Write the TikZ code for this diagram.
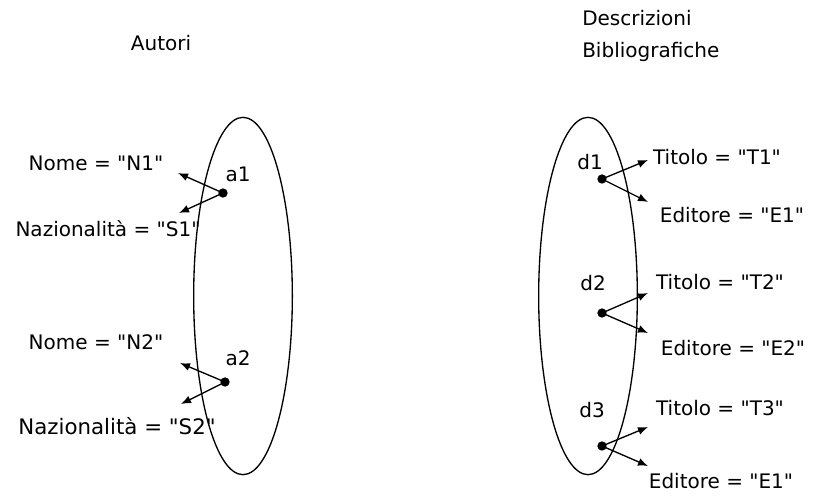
\documentclass[tikz,border=0pt]{standalone}
\usepackage{fontspec}
\setmainfont{DejaVu Sans}[Ligatures=TeXOff]
\usetikzlibrary{arrows.meta,positioning,shapes.geometric}
\tikzset{
  >=Latex,
  every node/.style={font=\fontsize{15}{18}\selectfont,inner sep=0pt},
  insieme/.style={draw,ellipse,line width=1pt,minimum width=74pt,minimum height=268pt},
  punto/.style={circle,fill,inner sep=0pt,minimum size=7pt},
  attr/.style={->,line width=1pt,>={Latex[length=7.5pt,width=6pt]}},
  titolo/.style={align=left,font=\fontsize{15}{24}\selectfont}
}
\begin{document}
\begin{tikzpicture}[x=0.75pt,y=-0.75pt]
  \useasboundingbox (0,0) rectangle (816,500);
  % titoli
  \node (autori) at (161,43) {Autori};
  \node[titolo,anchor=west] (descr) at (582,36) {Descrizioni\\Bibliografiche};

  % insiemi
  \node[insieme] (setA) at (243,296) {};
  \node[insieme] (setD) at (588,296) {};

  % autori
  \node[punto] (a1) at (223,193) {};
  \node (a1l) at (238,174) {a1};
  \node (n1) at (96,163) {Nome = "N1"};
  \node (s1) at (108,229) {Nazionalità = "S1"};
  \coordinate (a1n) at (178,173);
  \coordinate (a1s) at (179,213);
  \draw[attr] (a1.center) -- (a1n);
  \draw[attr] (a1.center) -- (a1s);

  \node[punto] (a2) at (225,382) {};
  \node (a2l) at (238,358) {a2};
  \node (n2) at (96,342) {Nome = "N2"};
  \node[font=\fontsize{16}{18}\selectfont] (s2) at (117,426) {Nazionalità = "S2"};
  \coordinate (a2n) at (180,363);
  \coordinate (a2s) at (181,404);
  \draw[attr] (a2.center) -- (a2n);
  \draw[attr] (a2.center) -- (a2s);

  % descrizioni
  \node[punto] (d1) at (602,179) {};
  \node (d1l) at (590,162) {d1};
  \node (t1) at (717,157) {Titolo = "T1"};
  \node (e1) at (732,215) {Editore = "E1"};
  \coordinate (d1t) at (648,160);
  \coordinate (d1e) at (648,202);
  \draw[attr] (d1.center) -- (d1t);
  \draw[attr] (d1.center) -- (d1e);

  \node[punto] (d2) at (602,313) {};
  \node (d2l) at (593,283) {d2};
  \node (t2) at (720,282) {Titolo = "T2"};
  \node (e2) at (733,348) {Editore = "E2"};
  \coordinate (d2t) at (648,293);
  \coordinate (d2e) at (648,333);
  \draw[attr] (d2.center) -- (d2t);
  \draw[attr] (d2.center) -- (d2e);

  \node[punto] (d3) at (602,446) {};
  \node (d3l) at (592,410) {d3};
  \node (t3) at (720,408) {Titolo = "T3"};
  \node (e3) at (721,481) {Editore = "E1"};
  \coordinate (d3t) at (648,427);
  \coordinate (d3e) at (648,466);
  \draw[attr] (d3.center) -- (d3t);
  \draw[attr] (d3.center) -- (d3e);
\end{tikzpicture}
\end{document}
